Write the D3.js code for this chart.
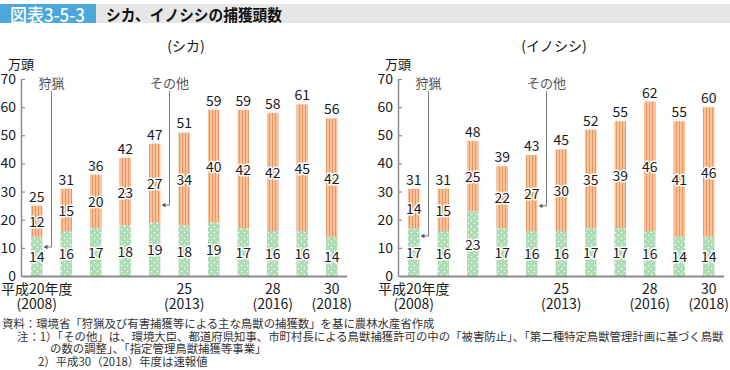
<!DOCTYPE html>
<html><head><meta charset="utf-8">
<script src="https://cdn.jsdelivr.net/npm/d3@7"></script>
<style>
body{margin:0;background:#fff}
svg{display:block;font-family:"Noto Sans CJK JP","Noto Sans",sans-serif}
</style></head><body>
<svg id="c" width="730" height="370"></svg>
<script>
const years = ["2008","2009","2010","2011","2012","2013","2014","2015","2016","2017","2018"];
const shikaHunting = [14,16,17,18,19,18,19,17,16,16,14];
const shikaOther   = [12,15,20,23,27,34,40,42,42,45,42];
const shikaTotal   = [25,31,36,42,47,51,59,59,58,61,56];
const inoHunting   = [17,16,23,17,16,16,17,17,16,14,14];
const inoOther     = [14,15,25,22,27,30,35,39,46,41,46];
const inoTotal     = [31,31,48,39,43,45,52,55,62,55,60];
const yTicks = [0,10,20,30,40,50,60,70];
const xLabelYears = ["2008","2013","2016","2018"];
const xLabelEra   = ["平成20年度","25","28","30"];
const panelTitles = ["(シカ)","(イノシシ)"];
const notes = [
  "資料：環境省「狩猟及び有害捕獲等による主な鳥獣の捕獲数」を基に農林水産省作成",
  "注：1）「その他」は、環境大臣、都道府県知事、市町村長による鳥獣捕獲許可の中の「被害防止」、「第二種特定鳥獣管理計画に基づく鳥獣",
  "の数の調整」、「指定管理鳥獣捕獲等事業」",
  "2）平成30（2018）年度は速報値"
];

const svg = d3.select("#c");
const defs = svg.append("defs");
const pO = defs.append("pattern").attr("id","stripe").attr("patternUnits","userSpaceOnUse").attr("width",3).attr("height",6);
pO.append("rect").attr("width",3).attr("height",6).attr("fill","#f8c29a");
pO.append("rect").attr("x",2).attr("width",1).attr("height",6).attr("fill","#eb9660");
const pG = defs.append("pattern").attr("id","dots").attr("patternUnits","userSpaceOnUse").attr("width",6).attr("height",6);
pG.append("rect").attr("width",6).attr("height",6).attr("fill","#acdcb3");
pG.append("circle").attr("cx",1.5).attr("cy",1.5).attr("r",0.8).attr("fill","#fff");
pG.append("circle").attr("cx",4.5).attr("cy",4.5).attr("r",0.8).attr("fill","#fff");

// header
svg.append("rect").attr("x",0).attr("y",4).attr("width",730).attr("height",19).attr("fill","#e6e6e6");
svg.append("rect").attr("x",0).attr("y",4).attr("width",96).attr("height",19).attr("fill","#4ba7dc");
svg.append("text").attr("x",10).attr("y",14).attr("dominant-baseline","central")
  .attr("font-size",18).attr("font-weight",500).attr("fill","#fff")
  .attr("textLength",75).attr("lengthAdjust","spacingAndGlyphs").text("図表3-5-3");
svg.append("text").attr("x",106).attr("y",14).attr("dominant-baseline","central")
  .attr("font-size",16).attr("font-weight",700).attr("fill","#111")
  .attr("textLength",176).attr("lengthAdjust","spacingAndGlyphs").text("シカ、イノシシの捕獲頭数");

function panel(offset, titleX, title, hunting, other, total, huntArrowVal, otherArrowVal, otherIdx) {
  const g = svg.append("g").attr("transform", `translate(${offset},0)`);
  const x = d3.scaleBand().domain(years).range([22, 346.5]).paddingInner(0.61).paddingOuter(0.305);
  const y = d3.scaleLinear().domain([0, 70]).range([276, 79]);

  g.append("text").attr("x", titleX).attr("y", 45).attr("text-anchor","middle").attr("dominant-baseline","central")
    .attr("font-size",14).attr("fill","#111").text(title);
  g.append("text").attr("x", 21).attr("y", y(70) - 16).attr("text-anchor","middle").attr("dominant-baseline","central")
    .attr("font-size",13).attr("fill","#111").text("万頭");

  // bars
  const bw = x.bandwidth();
  g.selectAll("rect.h").data(years).join("rect").attr("class","h")
    .attr("x", d => x(d)).attr("width", bw)
    .attr("y", (d,i) => y(hunting[i])).attr("height", (d,i) => y(0) - y(hunting[i]))
    .attr("fill","url(#dots)");
  g.selectAll("rect.o").data(years).join("rect").attr("class","o")
    .attr("x", d => x(d)).attr("width", bw)
    .attr("y", (d,i) => y(total[i])).attr("height", (d,i) => y(hunting[i]) - y(total[i]))
    .attr("fill","url(#stripe)");

  // axes
  const ya = g.append("g").attr("transform","translate(21,0)")
    .call(d3.axisLeft(y).tickValues(yTicks).tickSizeInner(-4).tickSizeOuter(0).tickPadding(5));
  ya.attr("font-family", null);
  ya.select(".domain").attr("stroke","#8c8c8c").attr("stroke-width",1.5);
  ya.selectAll(".tick line").attr("stroke","#8c8c8c").attr("stroke-width",1.2);
  ya.selectAll(".tick text").attr("font-size",14).attr("fill","#1a1a1a");

  const xa = g.append("g").attr("transform", `translate(0,${y(0)})`)
    .call(d3.axisBottom(x).tickValues([]).tickSizeOuter(0));
  xa.select(".domain").attr("stroke","#8c8c8c").attr("stroke-width",2);

  const xl = g.selectAll("text.xl").data(xLabelYears).join("text").attr("class","xl")
    .attr("text-anchor","middle").attr("font-size",14).attr("fill","#1a1a1a");
  xl.append("tspan").attr("x", d => x(d) + bw/2).attr("y", 293.5).text((d,i) => xLabelEra[i]);
  xl.append("tspan").attr("x", d => x(d) + bw/2).attr("y", 308.5).text(d => `(${d})`);

  // value labels
  const lab = (cls, fy, ftxt) => g.selectAll("text." + cls).data(years).join("text").attr("class", cls)
    .attr("x", d => x(d) + bw/2).attr("y", fy).text(ftxt)
    .attr("text-anchor","middle").attr("dominant-baseline","central")
    .attr("font-size",14).attr("fill","#1a1a1a")
    .attr("stroke","#fff").attr("stroke-width",3).attr("stroke-linejoin","round").attr("paint-order","stroke");
  lab("lh", (d,i) => (y(0) + y(hunting[i])) / 2, (d,i) => hunting[i]);
  lab("lo", (d,i) => (y(hunting[i]) + y(total[i])) / 2, (d,i) => other[i]);
  lab("lt", (d,i) => y(total[i]) - 10, (d,i) => total[i]);

  // annotations
  const gap = (x.step() - bw) / 2;
  const ann = (label, idx, arrowVal) => {
    const lx = x(years[idx + 1]) - gap;
    const tipX = x(years[idx]) + bw + 1;
    const ay = y(arrowVal);
    g.append("text").attr("x", lx).attr("y", y(68.8)).attr("text-anchor","middle").attr("dominant-baseline","central")
      .attr("font-size",13).attr("fill","#555").text(label);
    g.append("path").attr("d", `M${lx},${y(65.7)}V${ay}H${tipX + 3}`)
      .attr("fill","none").attr("stroke","#7a7a7a").attr("stroke-width",1);
    g.append("path").attr("d", `M${tipX},${ay}l4,-2.2v4.4z`).attr("fill","#555");
  };
  ann("狩猟", 0, huntArrowVal);
  ann("その他", otherIdx, otherArrowVal);
}

panel(0, 186, panelTitles[0], shikaHunting, shikaOther, shikaTotal, 10.3, 25.2, 4);
panel(377, 177, panelTitles[1], inoHunting, inoOther, inoTotal, 14.2, 24.9, 4);

// notes
const nx = [2, 17, 50, 38];
const ny = [323, 335.5, 348, 360.5];
svg.selectAll("text.note").data(notes).join("text").attr("class","note")
  .attr("x", (d,i) => nx[i]).attr("y", (d,i) => ny[i]).attr("dominant-baseline","central")
  .attr("font-size",11.4).attr("fill","#333").text(d => d);
</script>
</body></html>
